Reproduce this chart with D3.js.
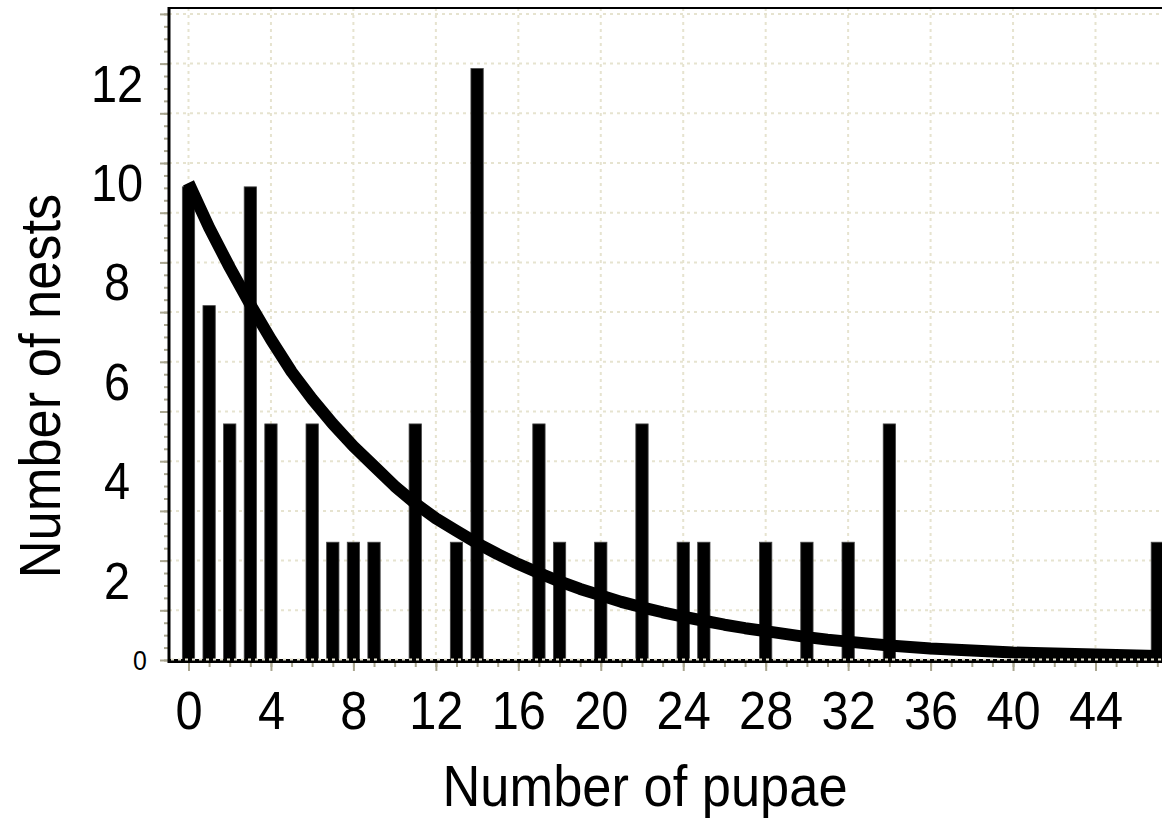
<!DOCTYPE html>
<html>
<head>
<meta charset="utf-8">
<script src="https://cdn.jsdelivr.net/npm/d3@7"></script>
<style>
  body { margin: 0; background: #fff; }
  svg { display: block; font-family: "Liberation Sans", Arial, sans-serif; }
  .grid { stroke: #e6e3cf; stroke-width: 2; stroke-dasharray: 3 4; fill: none; }
  .tick line { stroke: #a9a58f; stroke-width: 2; }
  .bar { fill: #000; stroke: #444; stroke-width: 0.8; }
</style>
</head>
<body>
<svg width="1162" height="821"></svg>
<script>
// number of pupae per nest (bar positions)
let pupae = [0, 1, 2, 3, 4, 6, 7, 8, 9, 11, 13, 14, 17, 18, 20, 22, 24, 25, 28, 30, 32, 34, 47];
// bar heights, read in grid units of the picture
let nests = [9.52, 7.13, 4.75, 9.52, 4.75, 4.75, 2.37, 2.37, 2.37, 4.75, 2.37, 11.9, 4.75, 2.37, 2.37, 4.75, 2.37, 2.37, 2.37, 2.37, 2.37, 4.75, 2.37];

// fitted curve at each whole number of pupae
let curveX = d3.range(0, 48);
let curveY = [9.6, 8.7, 7.9, 7.15, 6.45, 5.8, 5.25, 4.75, 4.3, 3.9, 3.5, 3.15, 2.85, 2.6, 2.35,
  2.13, 1.93, 1.75, 1.58, 1.43, 1.3, 1.17, 1.06, 0.96, 0.87, 0.79, 0.71, 0.64, 0.58, 0.52,
  0.46, 0.41, 0.37, 0.33, 0.29, 0.26, 0.23, 0.21, 0.19, 0.17, 0.15, 0.14, 0.13, 0.12, 0.11,
  0.1, 0.09, 0.08];

// tick labels
let xLabels = d3.range(0, 45, 4);
let yLabels = [2, 4, 6, 8, 10, 12];

let svg = d3.select("svg");
let width = 1162, height = 821;

let plot = { left: 169, top: 8, right: 1162, bottom: 660 };

let x = d3.scaleLinear().domain([0, 44]).range([188.5, 1095.5]);
let y = d3.scaleLinear().domain([0, 13]).range([plot.bottom, 13.9]);

// dotted grid
svg.append("g").selectAll("line")
  .data(d3.range(1, 14))
  .join("line")
  .attr("class", "grid")
  .attr("x1", plot.left).attr("x2", plot.right)
  .attr("y1", d => y(d)).attr("y2", d => y(d));

svg.append("g").selectAll("line")
  .data(xLabels)
  .join("line")
  .attr("class", "grid")
  .attr("x1", d => x(d)).attr("x2", d => x(d))
  .attr("y1", plot.top).attr("y2", plot.bottom);

// bars
let bw = 12.3;
svg.append("g").selectAll("rect")
  .data(pupae.map((p, i) => [p, nests[i]]))
  .join("rect")
  .attr("class", "bar")
  .attr("x", d => x(d[0]) - bw / 2)
  .attr("width", bw)
  .attr("y", d => y(d[1]))
  .attr("height", d => y(0) - y(d[1]));

// curve
let line = d3.line().x(d => x(d[0])).y(d => y(d[1]));
svg.append("path")
  .datum(curveX.map((c, i) => [c, curveY[i]]))
  .attr("d", line)
  .attr("fill", "none")
  .attr("stroke", "#000")
  .attr("stroke-width", 12)
  .attr("stroke-linejoin", "round");

// y ticks (minor + major)
let yMinor = d3.axisLeft(y).tickValues(d3.range(0, 13.01, 0.25)).tickSize(5).tickFormat("");
let yMajor = d3.axisLeft(y).tickValues(d3.range(0, 14)).tickSize(9).tickFormat("");
svg.append("g").attr("transform", "translate(" + plot.left + ",0)").call(yMinor)
  .call(g => g.select(".domain").remove());
svg.append("g").attr("transform", "translate(" + plot.left + ",0)").call(yMajor)
  .call(g => g.select(".domain").remove());

// x ticks
let xMinor = d3.axisBottom(x).tickValues(d3.range(0, 48)).tickSize(5).tickFormat("");
let xMajor = d3.axisBottom(x).tickValues(xLabels).tickSize(9);
let axisY = 662;
svg.append("g").attr("transform", "translate(0," + axisY + ")").call(xMinor)
  .call(g => g.select(".domain").remove());
let xg = svg.append("g").attr("transform", "translate(0," + axisY + ")").call(xMajor)
  .call(g => g.select(".domain").remove());
xg.selectAll("text")
  .attr("y", 67).attr("dy", null)
  .attr("fill", "#000")
  .style("font-size", "53px")
  .attr("transform", "scale(0.92,1)")
  .attr("x", d => 0);
xg.selectAll(".tick text").each(function(d) {
  // keep label centred on its tick after scaling
  d3.select(this).attr("transform", "scale(0.92,1)");
});

// axis frame
svg.append("line")
  .attr("x1", plot.left).attr("x2", plot.left)
  .attr("y1", plot.top - 1).attr("y2", 663)
  .attr("stroke", "#000").attr("stroke-width", 3);
svg.append("line")
  .attr("x1", plot.left).attr("x2", plot.right)
  .attr("y1", plot.top).attr("y2", plot.top)
  .attr("stroke", "#000").attr("stroke-width", 2);
svg.append("line")
  .attr("x1", plot.left).attr("x2", plot.right)
  .attr("y1", 661).attr("y2", 661)
  .attr("stroke", "#000").attr("stroke-width", 4);
// zero grid line sits on top of the axis
svg.append("line")
  .attr("class", "grid")
  .attr("x1", plot.left + 2).attr("x2", plot.right)
  .attr("y1", 659.5).attr("y2", 659.5);

// y labels hang below their grid line
svg.append("g").selectAll("text")
  .data(yLabels)
  .join("text")
  .attr("transform", d => "translate(117," + (y(d) + 38) + ") scale(0.92,1)")
  .attr("text-anchor", "middle")
  .style("font-size", "51px")
  .text(d => d);
svg.append("text")
  .attr("transform", "translate(140," + (y(0) + 10) + ") scale(0.92,1)")
  .attr("text-anchor", "middle")
  .style("font-size", "27px")
  .text("0");

// axis titles
svg.append("text")
  .attr("transform", "translate(645,806) scale(0.92,1)")
  .attr("text-anchor", "middle")
  .style("font-size", "57px")
  .text("Number of pupae");
svg.append("text")
  .attr("transform", "translate(60,386) rotate(-90) scale(0.92,1)")
  .attr("text-anchor", "middle")
  .style("font-size", "57px")
  .text("Number of nests");
</script>
</body>
</html>
